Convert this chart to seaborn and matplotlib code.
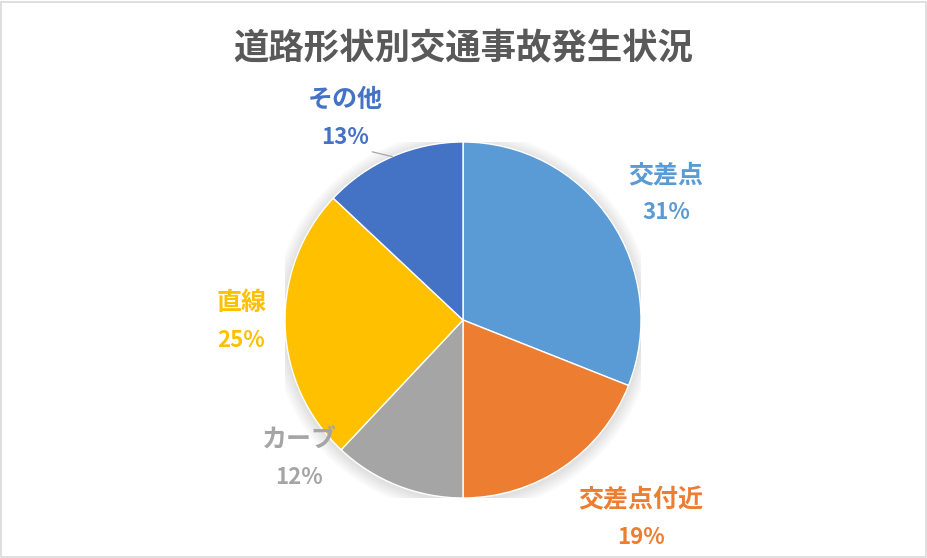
import numpy as np
import matplotlib
matplotlib.use("Agg")
import matplotlib.pyplot as plt
import seaborn as sns

#data for the pie
categories = ["交差点", "交差点付近", "カーブ", "直線", "その他"]
shares = [31, 19, 12, 25, 13]
colors = ["#5B9BD5", "#ED7D31", "#A5A5A5", "#FFC000", "#4472C4"]

#label placement (data units, radius = 1)
label_pos = [(1.14, 0.71), (1.0, -1.118), (-0.92, -0.78), (-1.245, -0.01), (-0.663, 1.13)]

sns.set_theme(style="white")
plt.rcParams["font.family"] = ["Noto Sans CJK JP", "DejaVu Sans"]

fig = plt.figure(figsize=(9.28, 5.58), dpi=100)
fig.patch.set_facecolor("white")

#pie axes: centre (463, 320) px, radius 178 px
cx, cy, r = 463, 320, 178
ax = fig.add_axes([(cx - r) / 928, (558 - cy - r) / 558, 2 * r / 928, 2 * r / 558])

#soft shadow under the pie
for k in range(6):
    ax.add_patch(plt.Circle((0.0, -0.01), 1.0 + 0.012 * (k + 1), color="#000000",
                            alpha=0.018, lw=0, zorder=0))

ax.pie(shares, colors=sns.color_palette(colors), startangle=90, counterclock=False,
       radius=1, wedgeprops={"edgecolor": "white", "linewidth": 1.0, "zorder": 2})
ax.set_xlim(-1, 1)
ax.set_ylim(-1, 1)
ax.set_aspect("equal")
ax.axis("off")

#labels
for cat, val, col, (lx, ly) in zip(categories, shares, colors, label_pos):
    ax.text(lx, ly + 0.105, cat, color=col, fontsize=18, fontweight="bold",
            ha="center", va="center", clip_on=False)
    ax.text(lx, ly - 0.105, f"{val}%", color=col, fontsize=16, fontweight="bold",
            ha="center", va="center", clip_on=False)

#leader line for その他
total = sum(shares)
start = 90 - 360 * sum(shares[:-1]) / total
mid = np.deg2rad(start - 360 * shares[-1] / total / 2)
ax.plot([-0.51, np.cos(mid)], [0.945, np.sin(mid)], color="#A6A6A6", lw=0.9, clip_on=False)

fig.text(0.499, 0.913, "道路形状別交通事故発生状況", ha="center", va="center",
         fontsize=25.5, fontweight="bold", color="#595959")

#frame around the chart
border = plt.Rectangle((0.001, 0.002), 0.997, 0.995, transform=fig.transFigure,
                       fill=False, edgecolor="#D9D9D9", lw=1.2)
fig.patches.append(border)

fig.savefig("out.png", dpi=100)
